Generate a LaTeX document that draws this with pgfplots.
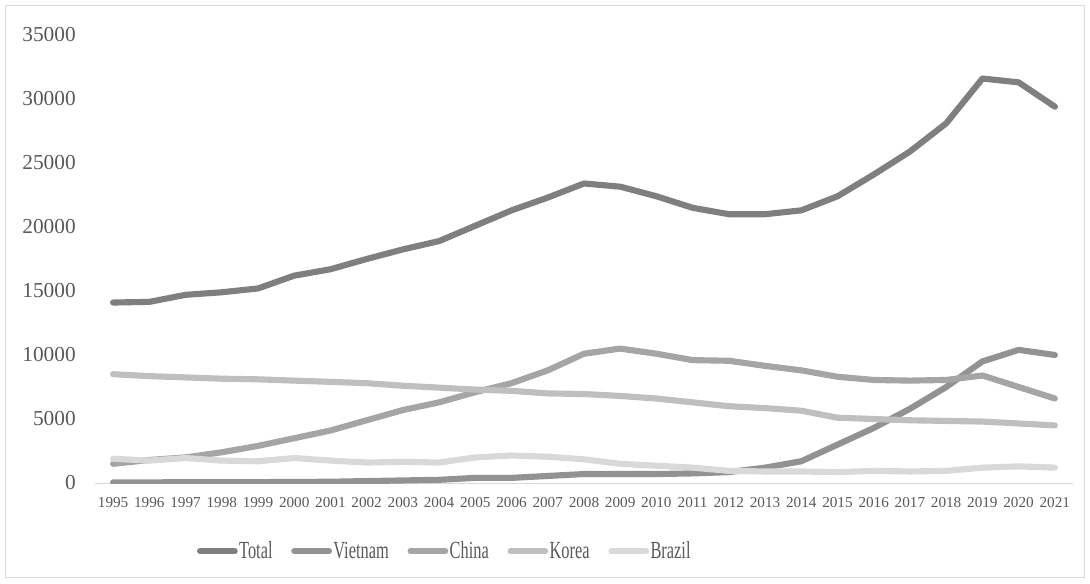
\documentclass[border=0pt]{standalone}
\usepackage{pgfplots}
\pgfplotsset{compat=1.18}
\usepackage{fontspec}
\setmainfont{Liberation Serif}
\definecolor{cTotal}{HTML}{7F7F7F}
\definecolor{cViet}{HTML}{929292}
\definecolor{cChina}{HTML}{A5A5A5}
\definecolor{cKorea}{HTML}{BFBFBF}
\definecolor{cBrazil}{HTML}{D9D9D9}
\definecolor{txt}{HTML}{595959}
\begin{document}
\begin{tikzpicture}
\path[use as bounding box] (0,0) rectangle (817.5pt,437.25pt);
\draw[cBrazil, line width=1pt] (4.2pt,4.2pt) rectangle (813.3pt,433.05pt);
\begin{axis}[
  at={(71.25pt,75pt)}, anchor=south west,
  scale only axis, width=733.5pt, height=336pt,
  xmin=1994.5, xmax=2021.5, ymin=0, ymax=35000,
  axis y line*=left, axis x line*=bottom,
  y axis line style={draw=none},
  x axis line style={cBrazil, line width=0.75pt, -},
  xtick={1995,...,2021}, ytick={0,5000,...,35000},
  major tick length=0pt,
  scaled y ticks=false,
  /pgf/number format/.cd, 1000 sep={}, assume math mode=true, /pgfplots/.cd,
  yticklabel style={anchor=east, inner sep=0pt, xshift=-14.25pt, text=txt, font=\fontsize{16}{18}\selectfont},
  xticklabel style={anchor=north, inner sep=0pt, yshift=-10.5pt, text=txt, font=\fontsize{11.4}{13}\selectfont},
  every axis plot/.append style={line width=4.6pt, line cap=round, line join=round},
  legend style={at={(0.104,-0.152)}, anchor=west, draw=none, fill=none, inner sep=0pt,
    legend columns=5, font=\fontsize{12.3}{14}\selectfont, text=txt,
    /tikz/every even column/.append style={column sep=13pt},
    nodes={inner sep=1pt}},
  legend image code/.code={\draw[#1, line width=4.6pt, line cap=round] (1pt,0pt) -- (27pt,0pt);},
]
\addplot[cTotal] coordinates {(1995,14100)(1996,14150)(1997,14700)(1998,14900)(1999,15200)(2000,16200)(2001,16700)(2002,17500)(2003,18250)(2004,18900)(2005,20100)(2006,21300)(2007,22300)(2008,23400)(2009,23150)(2010,22400)(2011,21500)(2012,21000)(2013,21000)(2014,21300)(2015,22400)(2016,24100)(2017,25900)(2018,28100)(2019,31600)(2020,31300)(2021,29400)};
\addplot[cViet] coordinates {(1995,50)(1996,50)(1997,60)(1998,60)(1999,70)(2000,80)(2001,100)(2002,150)(2003,200)(2004,250)(2005,400)(2006,400)(2007,550)(2008,700)(2009,700)(2010,700)(2011,750)(2012,850)(2013,1200)(2014,1700)(2015,3000)(2016,4300)(2017,5800)(2018,7500)(2019,9500)(2020,10400)(2021,10000)};
\addplot[cChina] coordinates {(1995,1500)(1996,1800)(1997,2000)(1998,2400)(1999,2900)(2000,3500)(2001,4100)(2002,4900)(2003,5700)(2004,6300)(2005,7100)(2006,7800)(2007,8800)(2008,10100)(2009,10500)(2010,10100)(2011,9600)(2012,9550)(2013,9150)(2014,8800)(2015,8300)(2016,8050)(2017,8000)(2018,8050)(2019,8400)(2020,7500)(2021,6600)};
\addplot[cKorea] coordinates {(1995,8500)(1996,8350)(1997,8250)(1998,8150)(1999,8100)(2000,8000)(2001,7900)(2002,7800)(2003,7600)(2004,7450)(2005,7300)(2006,7200)(2007,7000)(2008,6950)(2009,6800)(2010,6600)(2011,6300)(2012,6000)(2013,5850)(2014,5650)(2015,5100)(2016,5000)(2017,4900)(2018,4850)(2019,4800)(2020,4650)(2021,4500)};
\addplot[cBrazil] coordinates {(1995,1900)(1996,1750)(1997,1950)(1998,1750)(1999,1700)(2000,1950)(2001,1750)(2002,1600)(2003,1650)(2004,1600)(2005,2000)(2006,2150)(2007,2050)(2008,1850)(2009,1500)(2010,1350)(2011,1200)(2012,950)(2013,900)(2014,900)(2015,850)(2016,950)(2017,900)(2018,950)(2019,1200)(2020,1300)(2021,1200)};
\legend{\scalebox{1}[1.5]{Total},\scalebox{1}[1.5]{Vietnam},\scalebox{1}[1.5]{China},\scalebox{1}[1.5]{Korea},\scalebox{1}[1.5]{Brazil}}
\end{axis}
\end{tikzpicture}
\end{document}
